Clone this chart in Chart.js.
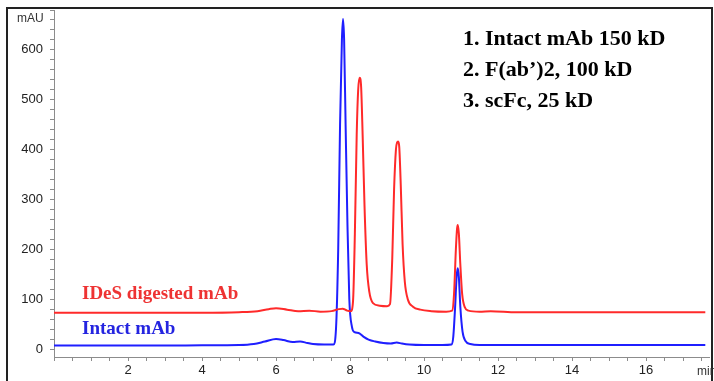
<!DOCTYPE html>
<html>
<head>
<meta charset="utf-8">
<script src="https://cdn.jsdelivr.net/npm/chart.js@4/dist/chart.umd.min.js"></script>
<style>
  body { margin: 0; background: #fff; }
  #wrap { position: relative; width: 714px; height: 381px; overflow: hidden; }
  #frame { position: absolute; left: 6px; top: 7px; width: 703px; height: 400px;
           border: 2px solid #222; border-bottom: none; pointer-events: none; }
  .note { position: absolute; font-family: 'Liberation Serif', 'Times New Roman', serif;
          font-weight: bold; white-space: nowrap; }
  .axis-unit { position: absolute; font-family: 'Liberation Sans', Arial, sans-serif;
               font-size: 12px; color: #333; }
</style>
</head>
<body>
<div id="wrap">
  <canvas id="chrom" width="714" height="381"></canvas>
  <div id="frame"></div>
  <div class="axis-unit" style="left:17px; top:11px;">mAU</div>
  <div class="axis-unit" style="left:697px; top:364px;">min</div>
  <div class="note" style="left:463px; top:22px; font-size:22px; line-height:31px; color:#000;">
    1. Intact mAb 150 kD<br>2. F(ab’)2, 100 kD<br>3. scFc, 25 kD
  </div>
  <div class="note" style="left:82px; top:283px; font-size:19px; line-height:19px; color:#ee3333;">IDeS digested mAb</div>
  <div class="note" style="left:82px; top:318px; font-size:19px; line-height:19px; color:#2424e0;">Intact mAb</div>
</div>
<script>
// retention time (min) and absorbance (mAU)
const intactTime = [0, 1, 2, 3, 4, 5, 5.4, 5.7, 6.0, 6.2, 6.45, 6.65, 6.85, 7.0, 7.3, 7.55,
  7.62, 7.68, 7.73, 7.78, 7.81, 7.84, 7.88, 7.93, 7.98, 8.05, 8.12, 8.23, 8.36, 8.5, 8.68, 8.9,
  9.1, 9.26, 9.4, 9.6, 10.0, 10.5, 10.74, 10.79, 10.84, 10.88, 10.91, 10.94, 10.98, 11.04,
  11.12, 11.25, 11.5, 12, 13, 14, 15, 16, 17, 17.6];
const intactMAU = [7, 7, 7, 7, 7.5, 8, 10, 15, 20, 18, 14, 15, 12, 10, 9, 9,
  40, 200, 450, 620, 662, 620, 450, 250, 100, 45, 34, 32, 25, 19, 15, 12,
  11, 13, 11, 9, 8, 8, 9, 25, 85, 145, 162, 145, 85, 35,
  16, 10, 8, 8, 8, 8, 8, 8, 8, 8];

const digestTime = [0, 1, 2, 3, 4, 5, 5.5, 5.8, 6.0, 6.3, 6.6, 6.9, 7.2, 7.5, 7.7, 7.8, 7.92,
  8.02, 8.08, 8.13, 8.18, 8.22, 8.26, 8.3, 8.34, 8.39, 8.45, 8.52, 8.62, 8.8, 9.0, 9.08,
  9.14, 9.19, 9.24, 9.27, 9.3, 9.33, 9.37, 9.42, 9.48, 9.56, 9.7, 9.9, 10.2, 10.6, 10.76,
  10.81, 10.86, 10.89, 10.91, 10.94, 10.98, 11.03, 11.1, 11.2, 11.5, 11.8, 12.5, 14, 15, 16, 17, 17.6];
const digestMAU = [73, 73, 73, 73, 73, 74, 76, 80, 82, 79, 76, 77, 75, 76, 80, 81, 77,
  76, 95, 230, 430, 520, 544, 525, 430, 290, 170, 115, 92, 87, 86, 90,
  180, 320, 400, 414, 416, 405, 330, 210, 135, 100, 85, 79, 76, 75, 77,
  110, 200, 240, 249, 232, 170, 110, 84, 77, 75, 76, 74, 74, 74, 74, 74, 74];

const xTickLabels = [2, 4, 6, 8, 10, 12, 14, 16];
const yTickLabels = [0, 100, 200, 300, 400, 500, 600];

const toPoints = (t, v) => t.map((x, i) => ({ x: x, y: v[i] }));

const axisGray = '#8c8c8c';
const tickFont = { family: "'Liberation Sans', Arial, sans-serif", size: 13 };

const ctx = document.getElementById('chrom').getContext('2d');
const chart = new Chart(ctx, {
  type: 'line',
  data: {
    datasets: [{
      label: 'IDeS digested mAb',
      data: toPoints(digestTime, digestMAU),
      borderColor: '#ff2a2a',
      borderWidth: 2,
      pointRadius: 0,
      cubicInterpolationMode: 'monotone'
    }, {
      label: 'Intact mAb',
      data: toPoints(intactTime, intactMAU),
      borderColor: '#1f1fff',
      borderWidth: 2,
      pointRadius: 0,
      cubicInterpolationMode: 'monotone'
    }]
  },
  options: {
    responsive: false,
    animation: false,
    layout: { padding: { top: 10, right: 5, left: 0, bottom: 0 } },
    plugins: { legend: { display: false }, tooltip: { enabled: false } },
    scales: {
      x: {
        type: 'linear',
        min: 0,
        max: 17.7,
        afterFit: (scale) => {
          scale.height = 24;
          scale.paddingLeft = 0;
          scale.paddingRight = 0;
        },
        border: { display: true, color: axisGray, width: 1 },
        grid: { drawOnChartArea: false, drawTicks: true, tickLength: 4, color: axisGray },
        ticks: {
          stepSize: 0.5,
          includeBounds: false,
          autoSkip: false,
          maxRotation: 0,
          padding: 2,
          color: '#222',
          font: tickFont,
          callback: (v) => xTickLabels.includes(v) ? String(v) : ''
        }
      },
      y: {
        min: -16,
        max: 680,
        afterFit: (scale) => {
          scale.width = 54;
          scale.paddingTop = 0;
          scale.paddingBottom = 0;
        },
        border: { display: true, color: axisGray, width: 1 },
        grid: { drawOnChartArea: false, drawTicks: true, tickLength: 4, color: axisGray },
        ticks: {
          stepSize: 20,
          includeBounds: false,
          autoSkip: false,
          padding: 7,
          color: '#222',
          font: tickFont,
          callback: (v) => yTickLabels.includes(v) ? String(v) : ''
        }
      }
    }
  }
});
</script>
</body>
</html>
